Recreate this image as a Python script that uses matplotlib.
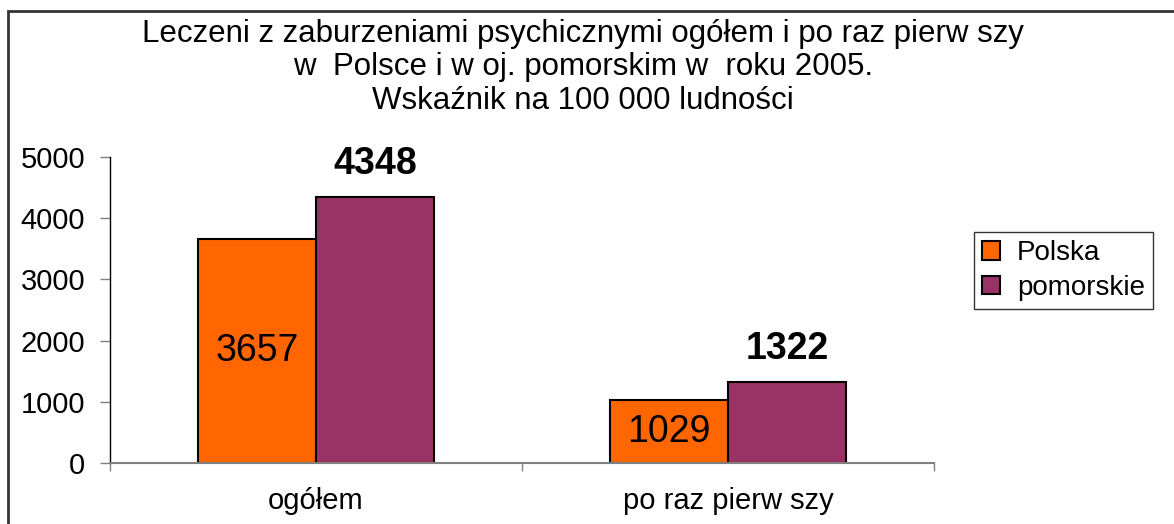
import matplotlib
matplotlib.use("Agg")
import matplotlib.pyplot as plt
from matplotlib.patches import Rectangle
import numpy as np

plt.rcParams['font.family'] = ['Liberation Sans', 'DejaVu Sans']

categories = ["ogółem", "po raz pierw szy"]
series_names = ["Polska", "pomorskie"]
polska = [3657, 1029]
pomorskie = [4348, 1322]
title_lines = ["Leczeni z zaburzeniami psychicznymi ogółem i po raz pierw szy",
               "w  Polsce i w oj. pomorskim w  roku 2005.",
               "Wskaźnik na 100 000 ludności"]
yticks = [0, 1000, 2000, 3000, 4000, 5000]

c_pl = "#FF6600"
c_pom = "#993366"

fig = plt.figure(figsize=(11.74, 5.24), dpi=100)
ax = fig.add_axes([110/1174, 1-463/524, (934-110)/1174, (463-157)/524])

x = np.arange(len(categories))
w = 0.2864
b1 = ax.bar(x - w/2, polska, w, color=c_pl, edgecolor="black", linewidth=1.5, label=series_names[0])
b2 = ax.bar(x + w/2, pomorskie, w, color=c_pom, edgecolor="black", linewidth=1.5, label=series_names[1])

for rect, v in zip(b1, polska):
    ax.text(rect.get_x() + rect.get_width()/2, v/2, str(v), ha="center", va="center",
            fontsize=27, color="black")
for rect, v in zip(b2, pomorskie):
    ax.text(rect.get_x() + rect.get_width()/2, v + 250, str(v), ha="center", va="bottom",
            fontsize=27, fontweight="bold", color="black")

ax.set_xlim(-0.5, 1.5)
ax.set_ylim(0, 5000)
ax.set_yticks(yticks)
ax.set_yticklabels([str(t) for t in yticks], fontsize=21)
ax.set_xticks(x)
ax.set_xticklabels(categories, fontsize=21)
ax.tick_params(axis="x", length=0, pad=17)
ax.tick_params(axis="y", length=7, width=1, color="#808080", pad=11)
ax.set_xticks([-0.5, 0.5, 1.5], minor=True)
ax.tick_params(axis="x", which="minor", length=6, width=1, color="#808080", direction="out")
ax.tick_params(axis="y", which="minor", length=0)

for s in ["top", "right"]:
    ax.spines[s].set_visible(False)
ax.spines["left"].set_color("black")
ax.spines["left"].set_linewidth(1)
ax.spines["bottom"].set_color("#808080")
ax.spines["bottom"].set_linewidth(1.5)

for i, line in enumerate(title_lines):
    fig.text(583/1174, 1 - (34 + i*33.5)/524, line, ha="center", va="center", fontsize=22.5)

leg = fig.legend(handles=[b1, b2], labels=series_names, loc="upper left",
                 bbox_to_anchor=(974/1174, 1-232/524), fontsize=20, frameon=True,
                 fancybox=False, edgecolor="black", handlelength=0.65, handleheight=0.65,
                 handletextpad=0.6, labelspacing=0.3, borderpad=0.3, borderaxespad=0)
leg.get_frame().set_linewidth(1)

fig.patches.append(Rectangle((8/1174, -0.05), 1.1, 1 - 11/524 + 0.05, transform=fig.transFigure,
                             fill=False, edgecolor="#333333", linewidth=2))

fig.savefig("out.png", dpi=100)
